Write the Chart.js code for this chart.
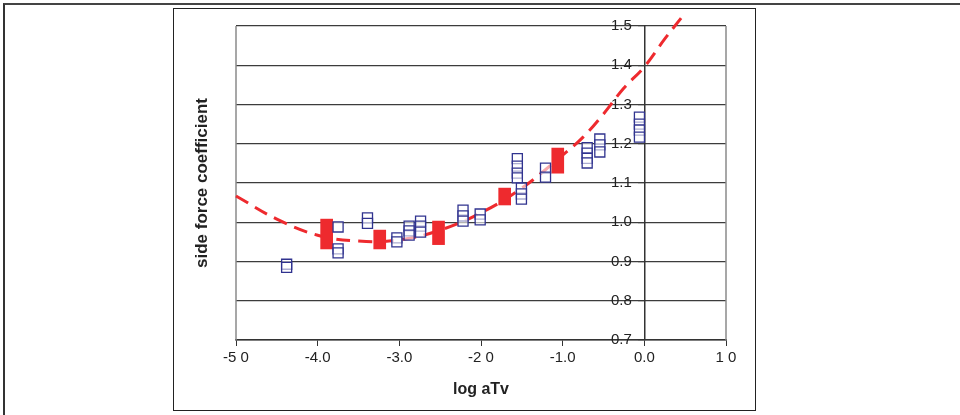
<!DOCTYPE html>
<html>
<head>
<meta charset="utf-8">
<title>side force coefficient vs log aTv</title>
<script src="https://cdn.jsdelivr.net/npm/chart.js@4.4.1/dist/chart.umd.min.js"></script>
<style>
  html, body { margin: 0; padding: 0; background: #fff; }
  .wrap { position: relative; width: 960px; height: 415px; overflow: hidden; }
  .outer { position: absolute; left: 3px; top: 3px; width: 1000px; height: 500px;
           border-left: 2px solid #333; border-top: 2px solid #444; }
  .inner { position: absolute; left: 173px; top: 8px; width: 581px; height: 401px;
           border: 1.5px solid #222; }
  canvas { position: absolute; left: 0; top: 0; }
</style>
</head>
<body>
<div class="wrap">
  <div class="outer"></div>
  <div class="inner"></div>
  <canvas id="chart" width="960" height="415"></canvas>
</div>
<script>
// x tick labels as printed on the figure
const xTickLabels = ['-5 0', '-4.0', '-3.0', '-2 0', '-1.0', '0.0', '1 0'];

// fitted trend (red dashed)
const curveX = [-5, -4.5, -4, -3.5, -3, -2.5, -2, -1.5, -1, -0.75, -0.5, -0.25, 0, 0.25, 0.45];
const curveY = [1.067, 1.008, 0.967, 0.952, 0.955, 0.98, 1.024, 1.087, 1.171, 1.217, 1.276, 1.342, 1.396, 1.467, 1.52];

// red filled markers (range of overlapping points)
const redX = [-3.89, -3.24, -2.52, -1.71, -1.06];
const redLow = [0.932, 0.932, 0.943, 1.044, 1.125];
const redHigh = [1.008, 0.980, 1.003, 1.087, 1.189];

// blue open squares
const blueX = [-4.38, -4.38,
  -3.75, -3.75, -3.75,
  -3.39, -3.39,
  -3.03, -3.03,
  -2.88, -2.88, -2.88,
  -2.74, -2.74, -2.74,
  -2.22, -2.22, -2.22,
  -2.01, -2.01,
  -1.555, -1.555, -1.555, -1.555,
  -1.505, -1.505, -1.505,
  -1.21, -1.21,
  -0.70, -0.70, -0.70, -0.70,
  -0.545, -0.545, -0.545,
  -0.06, -0.06, -0.06, -0.06];
const blueY = [0.893, 0.885,
  0.988, 0.932, 0.922,
  1.011, 0.997,
  0.960, 0.950,
  0.990, 0.978, 0.967,
  1.003, 0.990, 0.975,
  1.031, 1.016, 1.003,
  1.021, 1.006,
  1.162, 1.143, 1.125, 1.113,
  1.087, 1.072, 1.059,
  1.138, 1.115,
  1.190, 1.176, 1.163, 1.151,
  1.212, 1.197, 1.179,
  1.268, 1.250, 1.235, 1.217];

const RED = '#ee2a2e';
const BLUE = '#30338f';
const GRID = '#3c3c3c';

// grey frame round the plot area
const plotFrame = {
  id: 'plotFrame',
  beforeDatasetsDraw(chart) {
    const a = chart.chartArea;
    const ctx = chart.ctx;
    ctx.save();
    ctx.strokeStyle = '#8a8a8a';
    ctx.lineWidth = 1.5;
    ctx.beginPath();
    ctx.moveTo(a.left, a.top);
    ctx.lineTo(a.left, a.bottom);
    ctx.moveTo(a.right, a.top);
    ctx.lineTo(a.right, a.bottom);
    ctx.stroke();
    ctx.restore();
  }
};

Chart.defaults.font.family = '"Liberation Sans", Arial, sans-serif';

new Chart(document.getElementById('chart'), {
  type: 'scatter',
  data: {
    datasets: [
      {
        type: 'line',
        data: curveX.map((x, i) => ({ x: x, y: curveY[i] })),
        borderColor: RED,
        borderWidth: 3,
        borderDash: [14, 8],
        pointRadius: 0,
        tension: 0.4,
        fill: false,
        clip: false,
        order: 3
      },
      {
        type: 'bar',
        data: redX.map((x, i) => ({ x: x, y: [redLow[i], redHigh[i]] })),
        backgroundColor: RED,
        borderWidth: 0,
        barThickness: 12,
        order: 2
      },
      {
        type: 'scatter',
        data: blueX.map((x, i) => ({ x: x, y: blueY[i] })),
        pointStyle: 'rect',
        pointRadius: 7.1,
        pointBorderWidth: 1.3,
        pointBorderColor: BLUE,
        pointBackgroundColor: 'rgba(255,255,255,0.6)',
        order: 1
      }
    ]
  },
  options: {
    responsive: false,
    animation: false,
    devicePixelRatio: 1,
    layout: { padding: { left: 190, right: 234, top: 26, bottom: 0 } },
    plugins: { legend: { display: false }, tooltip: { enabled: false } },
    scales: {
      x: {
        type: 'linear',
        min: -5,
        max: 1,
        offset: false,
        ticks: {
          stepSize: 1,
          padding: 3,
          color: '#222',
          font: { size: 15 },
          maxRotation: 0,
          callback: (v) => xTickLabels[Math.round(v) + 5]
        },
        grid: { drawOnChartArea: false, drawTicks: true, tickLength: 6, color: '#333', offset: false },
        border: { display: true, color: '#333', width: 1.5 },
        title: {
          display: true,
          text: 'log aTv',
          color: '#222',
          font: { size: 16, weight: 'bold' },
          padding: { top: 10.4, bottom: 15.4 }
        }
      },
      y: {
        type: 'linear',
        position: { x: 0 },
        min: 0.7,
        max: 1.5,
        ticks: {
          stepSize: 0.1,
          padding: 7,
          color: '#222',
          font: { size: 15 },
          // labels sit right-aligned on the axis line, so pad them off it
          callback: (v) => v.toFixed(1) + '   '
        },
        grid: { color: GRID, lineWidth: 1.2, tickLength: 6 },
        border: { display: true, color: '#333', width: 1.5 }
      },
      yTitle: {
        type: 'linear',
        position: 'left',
        min: 0,
        max: 1,
        ticks: { display: false },
        grid: { display: false, drawTicks: false },
        border: { display: false },
        title: {
          display: true,
          text: 'side force coefficient',
          color: '#222',
          font: { size: 17, weight: 'bold' },
          padding: { top: 1.8, bottom: 23.8 }
        }
      }
    }
  },
  plugins: [plotFrame]
});
</script>
</body>
</html>
